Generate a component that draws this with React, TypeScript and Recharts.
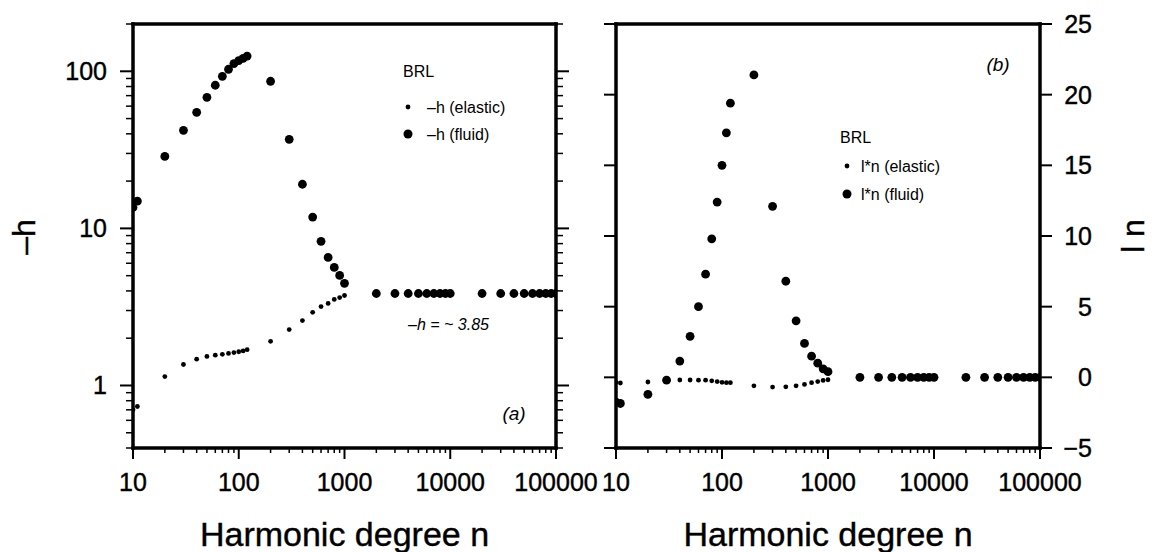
import React from 'react';
import { ScatterChart, Scatter, XAxis, YAxis, Legend } from 'recharts';

// harmonic degrees sampled
const degrees = [
  10, 11, 20, 30, 40, 50, 60, 70, 80, 90, 100, 110, 120,
  200, 300, 400, 500, 600, 700, 800, 900, 1000,
  2000, 3000, 4000, 5000, 6000, 7000, 8000, 9000, 10000,
  20000, 30000, 40000, 50000, 60000, 70000, 80000, 90000, 100000,
];

// panel (a): -h
const hElastic = [
  0.7, 0.735, 1.14, 1.36, 1.47, 1.53, 1.56, 1.58, 1.6, 1.62, 1.64, 1.66, 1.69,
  1.91, 2.27, 2.59, 2.92, 3.18, 3.33, 3.53, 3.63, 3.74,
  3.85, 3.85, 3.85, 3.85, 3.85, 3.85, 3.85, 3.85, 3.85,
  3.85, 3.85, 3.85, 3.85, 3.85, 3.85, 3.85, 3.85, 3.85,
];
const hFluid = [
  13.6, 14.9, 28.7, 42.1, 54.8, 68.3, 81.5, 92.9, 103, 112, 117, 121, 125,
  86.4, 36.9, 19.1, 11.8, 8.27, 6.53, 5.64, 5.02, 4.47,
  3.85, 3.85, 3.85, 3.85, 3.85, 3.85, 3.85, 3.85, 3.85,
  3.85, 3.85, 3.85, 3.85, 3.85, 3.85, 3.85, 3.85, 3.85,
];

// panel (b): l*n
const lnElastic = [
  -0.35, -0.4, -0.33, -0.2, -0.19, -0.19, -0.2, -0.2, -0.25, -0.3, -0.35, -0.38, -0.38,
  -0.6, -0.69, -0.67, -0.6, -0.5, -0.38, -0.3, -0.22, -0.17,
  0, 0, 0, 0, 0, 0, 0, 0, 0,
  0, 0, 0, 0, 0, 0, 0, 0, 0,
];
const lnFluid = [
  -1.75, -1.85, -1.2, -0.2, 1.15, 2.9, 5.0, 7.3, 9.8, 12.4, 15.0, 17.3, 19.4,
  21.4, 12.1, 6.8, 4.0, 2.4, 1.5, 1.0, 0.6, 0.4,
  0, 0, 0, 0, 0, 0, 0, 0, 0,
  0, 0, 0, 0, 0, 0, 0, 0, 0,
];

const degreeDecades = [10, 100, 1000, 10000];
const hDecades = [0.1, 1, 10, 100];
const lnTicks = [-5, 0, 5, 10, 15, 20, 25];

const logTicks = (decades: number[], lo: number, hi: number) => {
  const out: number[] = [];
  decades.forEach((d) => {
    for (let k = 1; k <= 10; k++) {
      const v = +(k * d).toPrecision(6);
      if (v >= lo && v <= hi && !out.includes(v)) out.push(v);
    }
  });
  return out;
};

const degreeTicks = logTicks(degreeDecades, 10, 100000);
const hTicks = logTicks(hDecades, 0.4, 200);

const isMajor = (v: number) => {
  const l = Math.log10(v);
  return Math.abs(l - Math.round(l)) < 1e-6;
};

const FONT = '"Liberation Sans", Arial, sans-serif';
const TICK_FS = 25;
const frame = { stroke: '#000', strokeWidth: 3.5, strokeLinecap: 'square' as const };

const fmt = (v: number) => (v < 0 ? '\u2212' + Math.abs(v) : String(v));

const Tick = (props: any) => {
  const { x, y, payload, side, labels, linear } = props;
  const v = payload.value;
  const major = linear ? true : isMajor(v);
  let line;
  let label = null;
  const textProps = { fontSize: TICK_FS, fontFamily: FONT, fill: '#000', stroke: '#000', strokeWidth: 0.4 };
  if (side === 'bottom' || side === 'top') {
    const len = major ? 11 : 5;
    const dir = side === 'bottom' ? 1 : -1;
    line = <line x1={x} y1={y} x2={x} y2={y + dir * len} stroke="#000" strokeWidth={major ? 2 : 1.5} />;
    if (labels && major) {
      label = (
        <text x={x} y={y + 43} textAnchor="middle" {...textProps}>
          {fmt(v)}
        </text>
      );
    }
  } else {
    const len = linear ? 12 : major ? 13 : 7;
    const dir = side === 'right' ? 1 : -1;
    line = <line x1={x} y1={y} x2={x + dir * len} y2={y} stroke="#000" strokeWidth={major ? 2 : 1.5} />;
    if (labels && major) {
      label = (
        <text x={side === 'right' ? x + 52 : x - 26} y={y + 9} textAnchor="end" {...textProps}>
          {fmt(v)}
        </text>
      );
    }
  }
  return (
    <g>
      {line}
      {label}
    </g>
  );
};

const dot = (r: number) => (p: any) => <circle cx={p.cx} cy={p.cy} r={r} fill="#000" />;

const makeLegend = (dotX: number, textX: number, rows: number[]) => (props: any) => {
  const items = props.payload || [];
  return (
    <svg width={170} height={90} style={{ overflow: 'visible', display: 'block' }}>
      <text x={5} y={19} fontSize={16} fontFamily={FONT} fill="#000">BRL</text>
      {items.map((e: any, i: number) => (
        <g key={i}>
          <circle cx={dotX} cy={rows[i]} r={i === 0 ? 2.4 : 4.5} fill="#000" />
          <text x={textX} y={rows[i] + 6} fontSize={16} fontFamily={FONT} fill="#000">
            {e.value}
          </text>
        </g>
      ))}
    </svg>
  );
};

const toPoints = (vals: number[]) => degrees.map((n, i) => ({ n, v: vals[i] }));

const xAxisCommon = {
  type: 'number' as const,
  scale: 'log' as const,
  domain: [10, 100000],
  allowDataOverflow: true,
  ticks: degreeTicks,
  interval: 0 as const,
  tickSize: 0,
  tickMargin: 0,
  axisLine: frame,
  tickLine: false,
};

export default function App() {
  return (
    <div
      style={{
        position: 'absolute',
        left: 0,
        top: 0,
        width: 1152,
        height: 552,
        background: '#fff',
        overflow: 'hidden',
      }}
    >
      <div style={{ position: 'absolute', left: 0, top: 0 }}>
        <ScatterChart width={620} height={552} margin={{ top: 4, right: 44, bottom: 0, left: 73 }}>
          <XAxis xAxisId="b" orientation="bottom" dataKey="n" height={104} {...xAxisCommon}
            tick={(p: any) => <Tick {...p} side="bottom" labels />} />
          <XAxis xAxisId="t" orientation="top" height={20} {...xAxisCommon}
            tick={(p: any) => <Tick {...p} side="top" />} />
          <YAxis yAxisId="l" orientation="left" dataKey="v" width={60} type="number" scale="log"
            domain={[0.4, 200]} allowDataOverflow ticks={hTicks} interval={0} tickSize={0} tickMargin={0}
            axisLine={frame} tickLine={false} tick={(p: any) => <Tick {...p} side="left" labels />} />
          <YAxis yAxisId="r" orientation="right" width={20} type="number" scale="log"
            domain={[0.4, 200]} allowDataOverflow ticks={hTicks} interval={0} tickSize={0} tickMargin={0}
            axisLine={frame} tickLine={false} tick={(p: any) => <Tick {...p} side="right" />} />
          <Scatter xAxisId="b" yAxisId="l" name={'\u2013h (elastic)'} data={toPoints(hElastic)}
            shape={dot(2.4)} isAnimationActive={false} />
          <Scatter xAxisId="b" yAxisId="l" name={'\u2013h (fluid)'} data={toPoints(hFluid)}
            shape={dot(4.4)} isAnimationActive={false} />
          <Legend layout="vertical" align="center" verticalAlign="middle"
            wrapperStyle={{ left: 398, top: 58, width: 170, height: 90 }}
            content={makeLegend(10, 29, [49, 76])} />
        </ScatterChart>
      </div>

      <div style={{ position: 'absolute', left: 580, top: 0 }}>
        <ScatterChart width={572} height={552} margin={{ top: 4, right: 32, bottom: 0, left: 16 }}>
          <XAxis xAxisId="b" orientation="bottom" dataKey="n" height={104} {...xAxisCommon}
            tick={(p: any) => <Tick {...p} side="bottom" labels />} />
          <XAxis xAxisId="t" orientation="top" height={20} {...xAxisCommon}
            tick={(p: any) => <Tick {...p} side="top" />} />
          <YAxis yAxisId="r" orientation="right" dataKey="v" width={80} type="number"
            domain={[-5, 25]} allowDataOverflow ticks={lnTicks} interval={0} tickSize={0} tickMargin={0}
            axisLine={frame} tickLine={false} tick={(p: any) => <Tick {...p} side="right" labels linear />} />
          <YAxis yAxisId="l" orientation="left" width={20} type="number"
            domain={[-5, 25]} allowDataOverflow ticks={lnTicks} interval={0} tickSize={0} tickMargin={0}
            axisLine={frame} tickLine={false} tick={(p: any) => <Tick {...p} side="left" linear />} />
          <Scatter xAxisId="b" yAxisId="r" name="l*n (elastic)" data={toPoints(lnElastic)}
            shape={dot(2.4)} isAnimationActive={false} />
          <Scatter xAxisId="b" yAxisId="r" name="l*n (fluid)" data={toPoints(lnFluid)}
            shape={dot(4.4)} isAnimationActive={false} />
          <Legend layout="vertical" align="center" verticalAlign="middle"
            wrapperStyle={{ left: 255, top: 124, width: 170, height: 90 }}
            content={makeLegend(12, 26, [42, 70])} />
        </ScatterChart>
      </div>

      <svg width={1152} height={552} style={{ position: 'absolute', left: 0, top: 0, pointerEvents: 'none' }}>
        <g fontFamily={FONT} fill="#000">
          <text x={35} y={237} fontSize={32} textAnchor="middle" transform="rotate(-90 35 237)"
            stroke="#000" strokeWidth={0.4}>{'\u2013h'}</text>
          <text x={1144} y={236} fontSize={32} textAnchor="middle" transform="rotate(-90 1144 236)"
            stroke="#000" strokeWidth={0.4}>l n</text>
          <text x={344.5} y={546} fontSize={34} textAnchor="middle" stroke="#000" strokeWidth={0.4}>Harmonic degree n</text>
          <text x={828} y={546} fontSize={34} textAnchor="middle" stroke="#000" strokeWidth={0.4}>Harmonic degree n</text>
          <text x={408} y={330} fontSize={16} fontStyle="italic">{'\u2013h = ~ 3.85'}</text>
          <text x={514} y={420} fontSize={19} fontStyle="italic" textAnchor="middle">(a)</text>
          <text x={998} y={71} fontSize={19} fontStyle="italic" textAnchor="middle">(b)</text>
        </g>
      </svg>
    </div>
  );
}
